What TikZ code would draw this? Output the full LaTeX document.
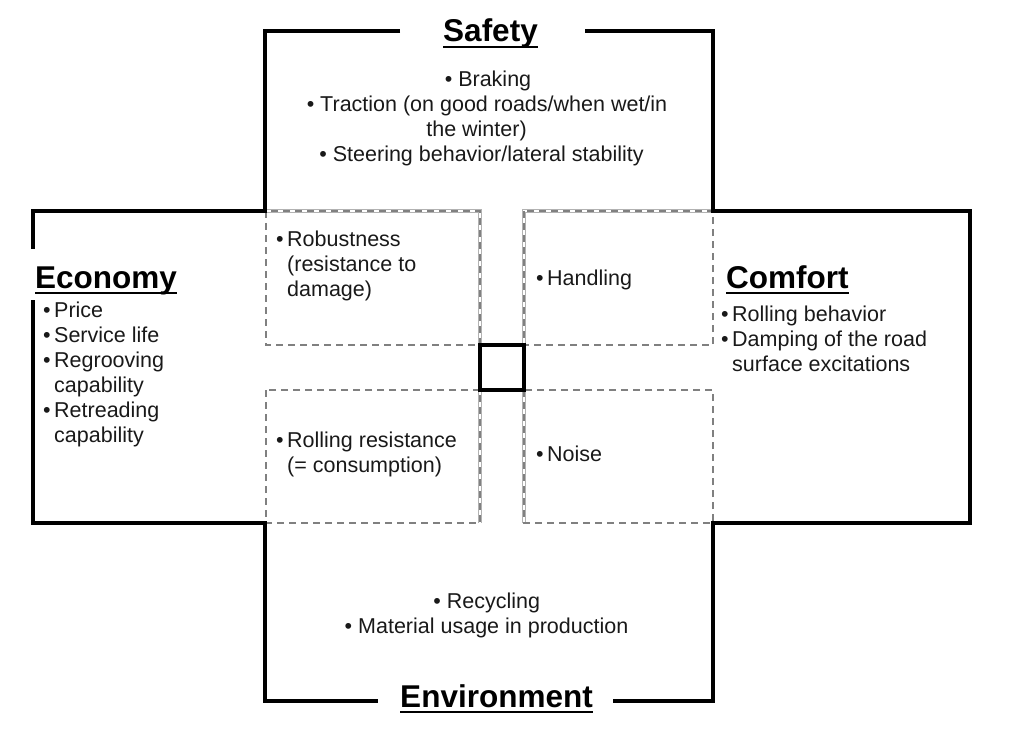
\documentclass[tikz,border=0pt]{standalone}
\usepackage{fontspec}
\setmainfont{Liberation Sans}
\usetikzlibrary{calc}
\newcommand{\myst}{\rule{0pt}{16pt}}
\newcommand{\bul}{\makebox[11pt][l]{\textbullet}}
\newcommand{\ind}{\hspace*{11pt}}
\begin{document}
\begin{tikzpicture}[x=1pt,y=-1pt,
  outline/.style={line width=3.2pt, black, line join=miter},
  dbox/.style={black!50, line width=2.8pt, dash pattern=on 7pt off 5pt},
  dline/.style={black!30, line width=0.8pt, double=white, double distance=2.6pt},
  body/.style={font=\fontsize{21.5}{25}\selectfont, inner sep=0pt, text=black!90},
  title/.style={font=\bfseries\fontsize{31.5}{36}\selectfont, inner sep=0pt},
  uline/.style={line width=2.6pt, black}]
\useasboundingbox (0,0) rectangle (1024,735);

% light double companion lines
\draw[dline] (266,211) -- (480,211) -- (480,523);
\draw[dline] (713,211) -- (524,211) -- (524,523);

% dashed boxes
\draw[dbox] (266,211) rectangle (480,345);
\draw[dbox] (266,390) rectangle (480,523);
\draw[dbox] (524,211) rectangle (713,345);
\draw[dbox] (524,390) rectangle (713,523);

% outline
\draw[outline] (400,31) -- (265,31) -- (265,211) -- (33,211) -- (33,249);
\draw[outline] (33,300) -- (33,523) -- (265,523) -- (265,701) -- (378,701);
\draw[outline] (613,701) -- (713,701) -- (713,523) -- (970,523) -- (970,211) -- (713,211) -- (713,31) -- (585,31);

% centre square
\draw[line width=3.2pt, black] (480,345) rectangle (524,390);

% titles
\node[title, anchor=base] (safety) at (490.5,42) {Safety};
\node[title, anchor=base west] (economy) at (35,288) {Economy};
\node[title, anchor=base west] (comfort) at (726,288) {Comfort};
\node[title, anchor=base] (environment) at (496.5,707) {Environment};
\foreach \t in {safety,economy,comfort,environment}
  \draw[uline] ($(\t.base west)+(0,5)$) -- ($(\t.base east)+(0,5)$);

% safety items
\node[body, anchor=base] (s1) at (488,87) {\textbullet{} Braking};
\node[body, anchor=base] (s2) at (487,112) {\textbullet{} Traction (on good roads/when wet/in};
\node[body, anchor=base] (s3) at (476.5,137) {the winter)};
\node[body, anchor=base] (s4) at (481.5,162) {\textbullet{} Steering behavior/lateral stability};

% environment items
\node[body, anchor=base] (e1) at (486.7,608) {\textbullet{} Recycling};
\node[body, anchor=base] (e2) at (486.5,633) {\textbullet{} Material usage in production};

% economy items
\node[body, anchor=north west, align=left] (econlist) at (43,301)
  {\myst\bul Price\\\bul Service life\\\bul Regrooving\\\ind capability\\\bul Retreading\\\ind capability};

% inner boxes
\node[body, anchor=north west, align=left] (robust) at (276,230.7)
  {\myst\bul Robustness\\\ind(resistance to\\\ind damage)};
\node[body, anchor=north west, align=left] (rolling) at (276,431.7)
  {\myst\bul Rolling resistance\\\ind(= consumption)};
\node[body, anchor=base west] (handling) at (536,285) {\bul Handling};
\node[body, anchor=base west] (noise) at (536,461) {\bul Noise};

% comfort items
\node[body, anchor=north west, align=left] (comfortlist) at (721,305.7)
  {\myst\bul Rolling behavior\\\bul Damping of the road\\\ind surface excitations};
\end{tikzpicture}
\end{document}
